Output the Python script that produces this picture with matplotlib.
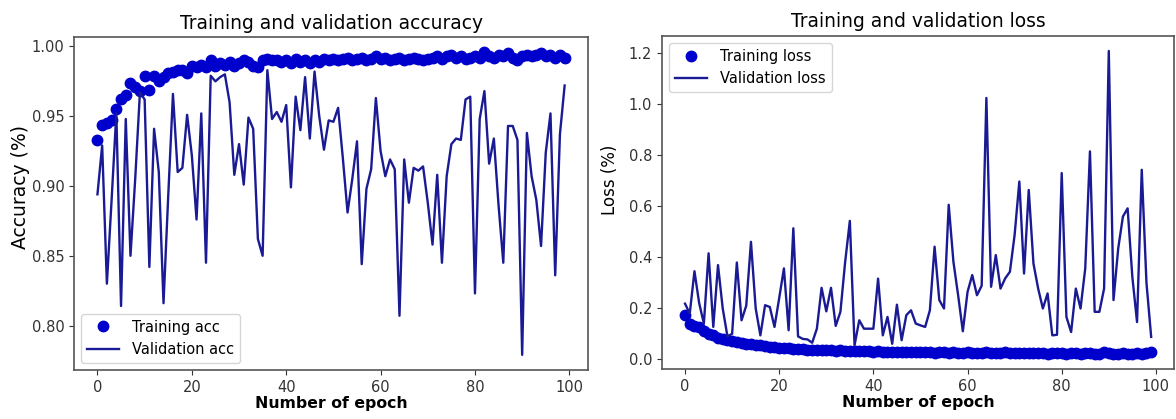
import matplotlib
matplotlib.use('Agg')
import matplotlib.pyplot as plt

# epochs 0..99
epochs = list(range(100))

train_acc = [
    0.933, 0.944, 0.945, 0.947, 0.955, 0.962, 0.965, 0.974, 0.971, 0.968,
    0.979, 0.969, 0.979, 0.975, 0.978, 0.981, 0.982, 0.983, 0.983, 0.981,
    0.986, 0.985, 0.987, 0.985, 0.990, 0.986, 0.988, 0.987, 0.989, 0.986,
    0.988, 0.990, 0.989, 0.986, 0.985, 0.990, 0.991, 0.990, 0.990, 0.989,
    0.990, 0.988, 0.991, 0.989, 0.990, 0.988, 0.990, 0.989, 0.991, 0.990,
    0.991, 0.990, 0.991, 0.992, 0.990, 0.991, 0.992, 0.990, 0.991, 0.993,
    0.991, 0.992, 0.990, 0.991, 0.992, 0.990, 0.991, 0.992, 0.991, 0.990,
    0.991, 0.992, 0.993, 0.991, 0.993, 0.994, 0.992, 0.993, 0.991, 0.992,
    0.993, 0.992, 0.996, 0.993, 0.992, 0.994, 0.993, 0.995, 0.992, 0.990,
    0.993, 0.994, 0.993, 0.994, 0.995, 0.993, 0.994, 0.992, 0.994, 0.992,
]

val_acc = [
    0.894, 0.929, 0.830, 0.890, 0.952, 0.814, 0.948, 0.850, 0.905, 0.967,
    0.962, 0.842, 0.941, 0.910, 0.816, 0.893, 0.966, 0.910, 0.913, 0.951,
    0.922, 0.876, 0.952, 0.845, 0.979, 0.975, 0.978, 0.980, 0.960, 0.908,
    0.930, 0.901, 0.949, 0.941, 0.862, 0.850, 0.983, 0.948, 0.953, 0.946,
    0.958, 0.899, 0.964, 0.940, 0.978, 0.934, 0.982, 0.950, 0.926, 0.947,
    0.946, 0.956, 0.920, 0.881, 0.905, 0.932, 0.844, 0.898, 0.912, 0.963,
    0.925, 0.907, 0.919, 0.912, 0.807, 0.919, 0.888, 0.913, 0.911, 0.914,
    0.888, 0.858, 0.908, 0.845, 0.907, 0.930, 0.934, 0.933, 0.962, 0.964,
    0.823, 0.948, 0.968, 0.916, 0.934, 0.886, 0.845, 0.943, 0.943, 0.933,
    0.779, 0.938, 0.907, 0.890, 0.857, 0.924, 0.952, 0.836, 0.937, 0.972,
]

train_loss = [
    0.175, 0.140, 0.132, 0.125, 0.110, 0.100, 0.095, 0.085, 0.080, 0.075,
    0.072, 0.068, 0.065, 0.062, 0.060, 0.058, 0.055, 0.052, 0.050, 0.048,
    0.045, 0.046, 0.043, 0.042, 0.040, 0.041, 0.038, 0.037, 0.038, 0.036,
    0.037, 0.035, 0.034, 0.036, 0.033, 0.034, 0.032, 0.033, 0.031, 0.032,
    0.030, 0.031, 0.030, 0.029, 0.030, 0.028, 0.029, 0.030, 0.028, 0.027,
    0.028, 0.027, 0.028, 0.026, 0.027, 0.028, 0.026, 0.027, 0.025, 0.026,
    0.027, 0.025, 0.026, 0.025, 0.027, 0.024, 0.025, 0.026, 0.030, 0.024,
    0.025, 0.024, 0.023, 0.025, 0.024, 0.023, 0.024, 0.022, 0.025, 0.026,
    0.023, 0.022, 0.024, 0.023, 0.022, 0.024, 0.023, 0.021, 0.022, 0.028,
    0.023, 0.022, 0.021, 0.023, 0.022, 0.021, 0.024, 0.022, 0.023, 0.030,
]

val_loss = [
    0.218, 0.179, 0.345, 0.220, 0.140, 0.415, 0.127, 0.369, 0.200, 0.090,
    0.100, 0.379, 0.153, 0.210, 0.460, 0.200, 0.094, 0.212, 0.205, 0.127,
    0.240, 0.356, 0.114, 0.513, 0.090, 0.080, 0.078, 0.065, 0.120, 0.280,
    0.188, 0.280, 0.131, 0.186, 0.380, 0.542, 0.055, 0.153, 0.120, 0.120,
    0.120, 0.316, 0.094, 0.166, 0.061, 0.214, 0.075, 0.173, 0.192, 0.140,
    0.133, 0.127, 0.192, 0.441, 0.232, 0.199, 0.605, 0.382, 0.251, 0.110,
    0.264, 0.330, 0.251, 0.288, 1.023, 0.284, 0.408, 0.277, 0.317, 0.343,
    0.487, 0.696, 0.336, 0.663, 0.375, 0.277, 0.199, 0.258, 0.094, 0.096,
    0.729, 0.166, 0.107, 0.277, 0.199, 0.356, 0.814, 0.186, 0.186, 0.277,
    1.207, 0.232, 0.434, 0.559, 0.591, 0.323, 0.146, 0.742, 0.300, 0.088,
]

dot_color = '#0000cc'
line_color = '#1a1a94'

fig = plt.figure(figsize=(11.76, 4.19), dpi=100)
ax1 = fig.add_axes([0.063, 0.117, 0.437, 0.795])
ax2 = fig.add_axes([0.5627, 0.119, 0.436, 0.7955])

ax1.plot(epochs, train_acc, 'o', color=dot_color, markersize=7.5, label='Training acc')
ax1.plot(epochs, val_acc, '-', color=line_color, linewidth=1.7, label='Validation acc')
ax1.set_title('Training and validation accuracy', fontsize=13.4)
ax1.set_xlabel('Number of epoch', fontsize=11.3, fontweight='bold', labelpad=1)
ax1.set_ylabel('Accuracy (%)', fontsize=13.5)
ax1.yaxis.set_label_coords(-0.085, 0.55)
ax1.set_yticks([0.80, 0.85, 0.90, 0.95, 1.00])
ax1.legend(loc='lower left', fontsize=10.5, handlelength=2.2, handletextpad=0.9)

ax2.plot(epochs, train_loss, 'o', color=dot_color, markersize=7.5, label='Training loss')
ax2.plot(epochs, val_loss, '-', color=line_color, linewidth=1.7, label='Validation loss')
ax2.set_title('Training and validation loss', fontsize=13.4)
ax2.set_xlabel('Number of epoch', fontsize=11.3, fontweight='bold', labelpad=1)
ax2.set_ylabel('Loss (%)', fontsize=12)
ax2.yaxis.set_label_coords(-0.083, 0.567)
ax2.set_yticks([0.0, 0.2, 0.4, 0.6, 0.8, 1.0, 1.2])
ax2.legend(loc='upper left', fontsize=10.5, handlelength=2.2, handletextpad=0.9)

for ax in (ax1, ax2):
    ax.set_xticks([0, 20, 40, 60, 80, 100])
    ax.tick_params(labelsize=10.5, colors='#333333')
    for s in ax.spines.values():
        s.set_color('#555555')
        s.set_linewidth(1.2)

fig.savefig('out.png', dpi=100)
